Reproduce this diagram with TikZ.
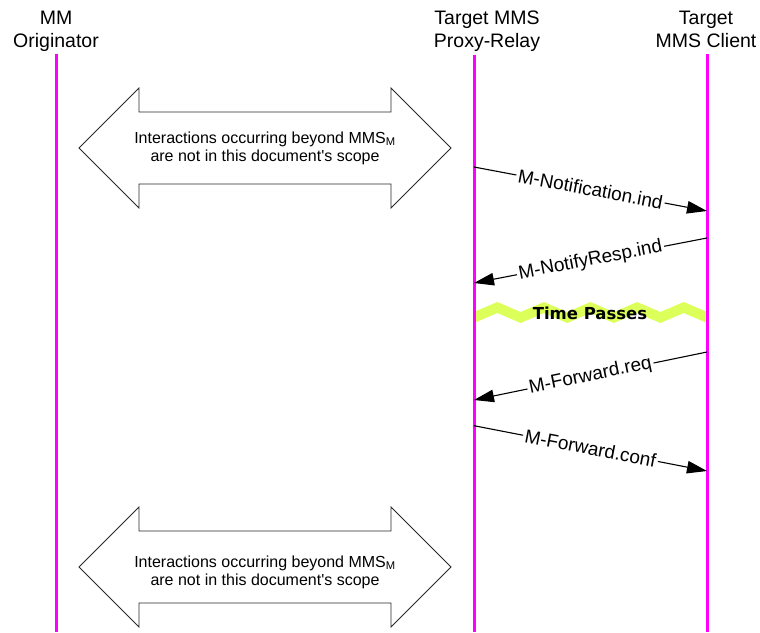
\documentclass[tikz,border=0pt]{standalone}
\usepackage{fontspec}
\setmainfont{Liberation Sans}
\newfontfamily\tpfont{DejaVu Sans}
\usetikzlibrary{arrows.meta}
\definecolor{life}{RGB}{255,0,255}
\definecolor{bandcol}{RGB}{220,255,90}
\definecolor{boxline}{RGB}{40,40,40}
\tikzset{
  lifeline/.style={draw=life, line width=3pt},
  hdr/.style={align=center, inner sep=0pt, anchor=north, font=\fontsize{19.5}{23.5}\selectfont},
  bigarrow/.style={draw=boxline, line width=0.8pt, fill=white, line join=miter},
  boxtxt/.style={align=center, inner sep=0pt, font=\fontsize{16}{18}\selectfont},
  msg/.style={draw=black, line width=1.1pt, -{Triangle[length=20pt,width=12.5pt]}},
  lbl/.style={sloped, fill=white, inner sep=2pt, font=\fontsize{19}{22}\selectfont},
  timetxt/.style={font=\tpfont\bfseries\fontsize{16.5}{18}\selectfont, inner sep=0pt},
  band/.style={fill=bandcol}
}
\begin{document}
\begin{tikzpicture}[x=1pt,y=-1pt]
\useasboundingbox (0,0) rectangle (760,632);
% headers
\node[hdr] (hA) at (56,10.5) {MM\\Originator};
\node[hdr] (hB) at (487,10.5) {Target MMS\\Proxy-Relay};
\node[hdr] (hC) at (706,10.5) {Target\\MMS Client};
% big double arrows
\draw[bigarrow] (79,148) -- (139,88) -- (139,112) -- (391,112) -- (391,88) -- (451,148)
  -- (391,208) -- (391,184) -- (139,184) -- (139,208) -- cycle;
\node[boxtxt] (scope1) at (265,148) {Interactions occurring beyond MMS\textsubscript{M}\\are not in this document\textquotesingle s scope};
\draw[bigarrow] (79,567) -- (139,507) -- (139,531) -- (391,531) -- (391,507) -- (451,567)
  -- (391,627) -- (391,603) -- (139,603) -- (139,627) -- cycle;
\node[boxtxt] (scope2) at (265,572) {Interactions occurring beyond MMS\textsubscript{M}\\are not in this document\textquotesingle s scope};
% time passes band
\path[band] (474,312) -- (497.3,302) -- (520.6,312) -- (543.9,302) -- (567.2,312) -- (590.5,302)
  -- (613.8,312) -- (637.1,302) -- (660.4,312) -- (683.7,302) -- (707,312)
  -- (707,323) -- (683.7,313) -- (660.4,323) -- (637.1,313) -- (613.8,323) -- (590.5,313)
  -- (567.2,323) -- (543.9,313) -- (520.6,323) -- (497.3,313) -- (474,323) -- cycle;
\node[timetxt] (tp) at (590,313) {Time Passes};
% lifelines
\coordinate (A0) at (56,54);  \coordinate (A1) at (56,632);
\coordinate (B0) at (474,55); \coordinate (B1) at (474,632);
\coordinate (C0) at (707,54); \coordinate (C1) at (707,632);
\draw[lifeline] (A0) -- (A1);
\draw[lifeline] (B0) -- (B1);
\draw[lifeline] (C0) -- (C1);
% messages
\coordinate (m1s) at (474,167);   \coordinate (m1e) at (707,211);
\coordinate (m2s) at (707,238);   \coordinate (m2e) at (474,283);
\coordinate (m3s) at (707,352);   \coordinate (m3e) at (474,400);
\coordinate (m4s) at (474,425.7); \coordinate (m4e) at (707,471);
\draw[msg] (m1s) -- node[lbl] (l1) {M-Notification.ind} (m1e);
\draw[msg] (m2s) -- node[lbl] (l2) {M-NotifyResp.ind} (m2e);
\draw[msg] (m3s) -- node[lbl] (l3) {M-Forward.req} (m3e);
\draw[msg] (m4s) -- node[lbl] (l4) {M-Forward.conf} (m4e);
\end{tikzpicture}
\end{document}
